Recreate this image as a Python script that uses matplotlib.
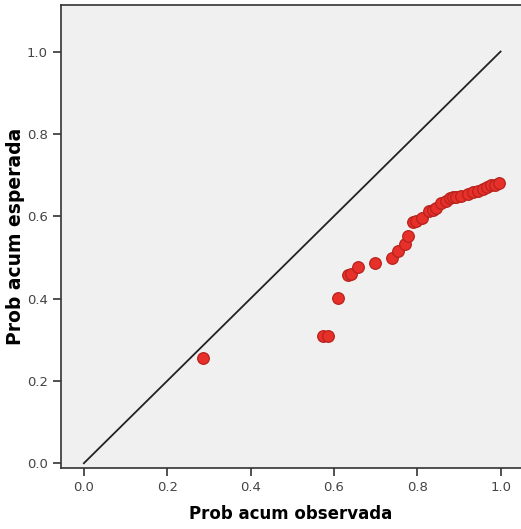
import numpy as np
import matplotlib
matplotlib.use("Agg")
import matplotlib.pyplot as plt

# observed vs expected cumulative probability (P-P plot)
obs = [0.285, 0.573, 0.585, 0.611, 0.633, 0.642, 0.657, 0.698, 0.740, 0.755,
       0.770, 0.779, 0.790, 0.797, 0.811, 0.829, 0.838, 0.846, 0.858, 0.870,
       0.878, 0.886, 0.894, 0.905, 0.921, 0.934, 0.946, 0.958, 0.968, 0.976,
       0.986, 0.997]
esp = [0.256, 0.308, 0.309, 0.402, 0.458, 0.460, 0.477, 0.486, 0.498, 0.515,
       0.532, 0.551, 0.587, 0.589, 0.596, 0.612, 0.615, 0.619, 0.631, 0.636,
       0.645, 0.647, 0.647, 0.649, 0.655, 0.658, 0.661, 0.667, 0.670, 0.675,
       0.677, 0.680]
ticks = [0.0, 0.2, 0.4, 0.6, 0.8, 1.0]

fig = plt.figure(figsize=(5.21, 5.29), dpi=100)
ax = fig.add_axes([0.117, 0.115, 0.883, 0.8755])
ax.set_facecolor("#f0f0f0")

ax.plot([0, 1], [0, 1], color="#222222", lw=1.3, zorder=2)
ax.scatter(obs, esp, s=70, color="#e8302a", edgecolors="#b8221c",
           linewidths=0.9, zorder=3)

ax.set_xlim(-0.055, 1.049)
ax.set_ylim(-0.012, 1.113)
ax.set_xticks(ticks)
ax.set_yticks(ticks)
ax.set_xticklabels([f"{t:.1f}" for t in ticks])
ax.set_yticklabels([f"{t:.1f}" for t in ticks])
ax.tick_params(direction="out", length=6, width=1.2, colors="#333333",
               labelsize=9.5, labelcolor="#444444")

for s in ["left", "bottom", "top"]:
    ax.spines[s].set_color("#333333")
    ax.spines[s].set_linewidth(1.2)
ax.spines["right"].set_visible(False)

ax.set_xlabel("Prob acum observada", fontsize=12, fontweight="bold", labelpad=8)
ax.set_ylabel("Prob acum esperada", fontsize=13.5, fontweight="bold", labelpad=1)

fig.savefig("out.png", dpi=100)
